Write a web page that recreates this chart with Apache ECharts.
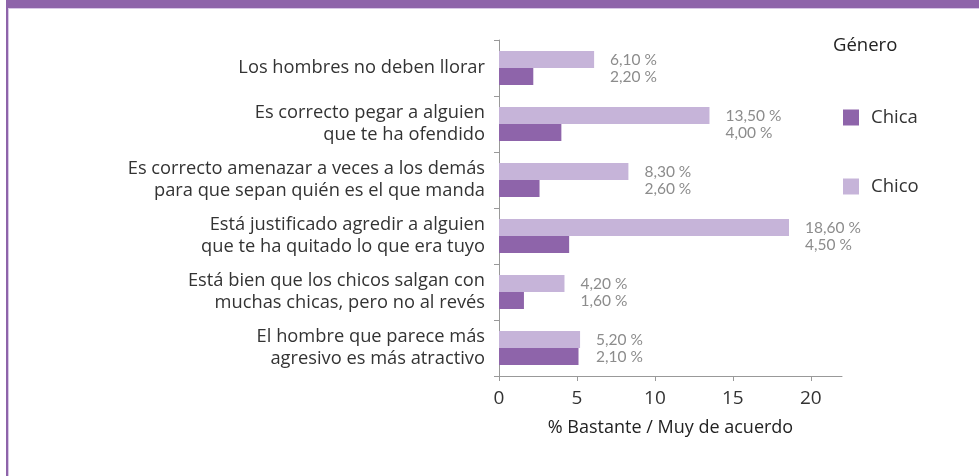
<!DOCTYPE html>
<html>
<head>
<meta charset="utf-8">
<script src="https://cdn.jsdelivr.net/npm/echarts@6/dist/echarts.min.js"></script>
<style>
html,body{margin:0;padding:0;background:#fff;}
#c{width:979px;height:476px;}
</style>
</head>
<body>
<div id="c"></div>
<script>
const categories = [
  "Los hombres no deben llorar",
  "Es correcto pegar a alguien\nque te ha ofendido",
  "Es correcto amenazar a veces a los demás\npara que sepan quién es el que manda",
  "Está justificado agredir a alguien\nque te ha quitado lo que era tuyo",
  "Está bien que los chicos salgan con\nmuchas chicas, pero no al revés",
  "El hombre que parece más\nagresivo es más atractivo"
];
// bar lengths as drawn in the picture
const chico = [6.1, 13.5, 8.3, 18.6, 4.2, 5.2];
const chica = [2.2, 4.0, 2.6, 4.5, 1.6, 5.1];
// value labels as printed in the picture
const chicoLabels = ["6,10 %", "13,50 %", "8,30 %", "18,60 %", "4,20 %", "5,20 %"];
const chicaLabels = ["2,20 %", "4,00 %", "2,60 %", "4,50 %", "1,60 %", "2,10 %"];
const xTicks = [0, 5, 10, 15, 20];
const legendTitle = "Género";
const axisName = "% Bastante / Muy de acuerdo";

const FONT = "Open Sans";
const LFONT = "Lato";
const DARK = "#8e64aa";
const LIGHT = "#c6b4d9";
const spacer = chico.map((v, i) => Math.max(0, Math.max(v, chica[i]) - chica[i]));

const chart = echarts.init(document.getElementById("c"), null, {renderer: "canvas"});
chart.setOption({
  animation: false,
  textStyle: {fontFamily: FONT},
  grid: {left: 499, right: 137, top: 40, bottom: 100, containLabel: false},
  legend: {
    orient: "vertical", left: 843, top: 108, padding: 0, itemWidth: 16, itemHeight: 16, itemGap: 50,
    icon: "rect", data: ["Chica", "Chico"],
    textStyle: {fontFamily: FONT, fontSize: 18.5, color: "#333", lineHeight: 16, padding: [0, 0, 0, 7]},
    selectedMode: false
  },
  graphic: [
    {type: "rect", left: 6, top: 0, shape: {width: 973, height: 8}, style: {fill: "#8e64aa"}},
    {type: "rect", left: 6, top: 8, shape: {width: 973, height: 1}, style: {fill: "#d7c7e6"}},
    {type: "rect", left: 6, top: 0, shape: {width: 2, height: 476}, style: {fill: "#8e64aa"}},
    {type: "rect", left: 8, top: 9, shape: {width: 1, height: 467}, style: {fill: "#d7c7e6"}},
    {type: "text", left: 833, top: 36, style: {text: legendTitle, font: "18.5px '" + FONT + "'", fill: "#222"}}
  ],
  xAxis: {
    type: "value", min: 0, max: 22,
    name: axisName, nameLocation: "middle", nameGap: 43,
    nameTextStyle: {fontFamily: FONT, fontSize: 18, color: "#222"},
    axisLine: {show: true, lineStyle: {color: "#999"}},
    axisTick: {show: true, length: 5, lineStyle: {color: "#999"}, customValues: xTicks},
    axisLabel: {fontFamily: FONT, fontSize: 19, color: "#333", margin: 13, customValues: xTicks},
    splitLine: {show: false}
  },
  yAxis: {
    type: "category", inverse: true, data: categories,
    axisLine: {show: true, lineStyle: {color: "#999"}},
    axisTick: {show: true, length: 5, lineStyle: {color: "#999"}},
    axisLabel: {fontFamily: FONT, fontSize: 18.3, color: "#333", margin: 14, lineHeight: 22, align: "right"}
  },
  series: [
    {
      name: "Chico", type: "bar", stack: "a", data: chico, barWidth: 17, barGap: "0%",
      itemStyle: {color: LIGHT},
      label: {show: true, position: "right", distance: 16, color: "#8c8c8c", fontSize: 15.5, fontFamily: LFONT,
        formatter: p => chicoLabels[p.dataIndex]},
      emphasis: {disabled: true}, silent: true
    },
    {
      name: "Chica", type: "bar", stack: "b", data: chica, barWidth: 17, barGap: "0%",
      itemStyle: {color: DARK},
      emphasis: {disabled: true}, silent: true
    },
    {
      name: "spacer", type: "bar", stack: "b", data: spacer, barWidth: 17, barGap: "0%",
      itemStyle: {color: "rgba(0,0,0,0)"},
      label: {show: true, position: "right", distance: 16, color: "#8c8c8c", fontSize: 15.5, fontFamily: LFONT,
        formatter: p => chicaLabels[p.dataIndex]},
      emphasis: {disabled: true}, silent: true
    }
  ]
});
</script>
</body>
</html>
